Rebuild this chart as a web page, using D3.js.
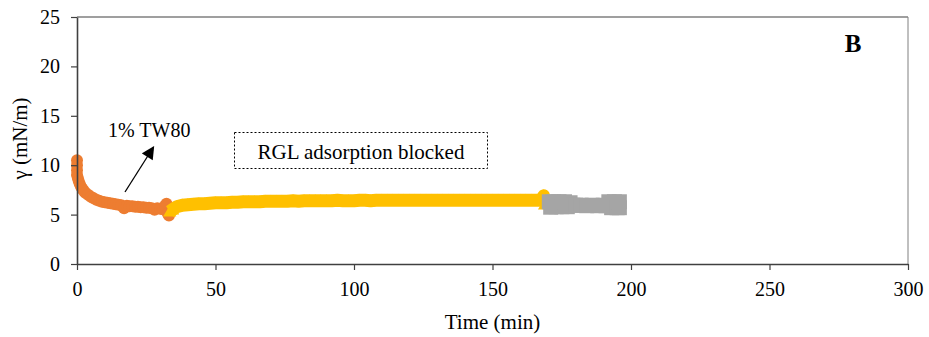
<!DOCTYPE html>
<html><head><meta charset="utf-8">
<script src="https://cdn.jsdelivr.net/npm/d3@7"></script>
<style>
html,body{margin:0;padding:0;background:#fff;}
svg{display:block;}
text{font-family:"Liberation Serif","Times New Roman",Times,serif;fill:#000;}
</style></head>
<body>
<svg id="chart" width="929" height="337"></svg>
<script>
// ---- data ----
const xTicks = [0, 50, 100, 150, 200, 250, 300];
const yTicks = [0, 5, 10, 15, 20, 25];

// Series 1 (orange, circles): 1% TW80
const tOrange = [0, 0, 0, 0, 0.3, 0.6, 1, 1.5, 2, 2.5, 3, 4, 5, 6, 7, 8, 9, 10, 11, 12, 13, 14, 15, 16, 17, 18, 19, 20, 21, 22, 23, 24, 25, 26, 27, 28, 29, 30, 31, 31.8, 32.3, 32.8, 33.2];
const gOrange = [10.5, 10.0, 9.5, 9.0, 8.7, 8.4, 8.1, 7.8, 7.6, 7.4, 7.2, 7.0, 6.8, 6.65, 6.5, 6.4, 6.3, 6.25, 6.2, 6.15, 6.1, 6.05, 6.0, 5.95, 5.65, 5.9, 5.85, 5.85, 5.8, 5.8, 5.75, 5.75, 5.7, 5.7, 5.65, 5.5, 5.65, 5.6, 5.55, 5.9, 6.1, 5.1, 4.9];

// Series 2 (yellow, triangles): RGL adsorption blocked
const tYellow = [33.5, 34.5, 36, 38, 40, 42, 44, 46, 48, 50, 52, 54, 56, 58, 60, 62, 64, 66, 68, 70, 72, 74, 76, 78, 80, 82, 84, 86, 88, 90, 92, 94, 96, 98, 100, 102, 104, 106, 108, 110, 112, 114, 116, 118, 120, 122, 124, 126, 128, 130, 132, 134, 136, 138, 140, 142, 144, 146, 148, 150, 152, 154, 156, 158, 160, 162, 164, 166, 167.5, 168.5, 168.8];
const gYellow = [5.3, 5.5, 5.8, 5.95, 6.0, 6.05, 6.1, 6.1, 6.15, 6.2, 6.2, 6.2, 6.25, 6.25, 6.3, 6.3, 6.3, 6.3, 6.35, 6.35, 6.35, 6.35, 6.35, 6.4, 6.35, 6.4, 6.4, 6.4, 6.4, 6.4, 6.4, 6.45, 6.4, 6.4, 6.4, 6.45, 6.45, 6.4, 6.45, 6.45, 6.45, 6.45, 6.45, 6.45, 6.45, 6.45, 6.45, 6.45, 6.45, 6.45, 6.45, 6.45, 6.45, 6.45, 6.45, 6.45, 6.45, 6.45, 6.45, 6.45, 6.45, 6.45, 6.45, 6.45, 6.45, 6.45, 6.45, 6.45, 6.45, 6.9, 6.0];

// Series 3 (grey, squares)
const tGrey = [170.5, 171, 172, 173, 174, 175, 176, 177, 178, 179, 180, 182, 184, 186, 188, 190, 191, 192, 193, 194, 195, 195.8, 195.8];
const gGrey = [6.3, 5.75, 6.3, 5.8, 6.3, 5.8, 6.3, 5.8, 6.2, 5.95, 5.95, 5.95, 5.9, 5.95, 5.9, 5.95, 5.9, 6.3, 5.7, 6.3, 5.7, 6.3, 5.7];

// ---- drawing ----
const svg = d3.select("#chart");
const x = d3.scaleLinear().domain([0, 300]).range([77, 908]);
const y = d3.scaleLinear().domain([0, 25]).range([264, 17]);

const plot = svg.append("g");

// frame (top and right)
plot.append("line").attr("x1", x(0)).attr("x2", x(300)).attr("y1", y(25)).attr("y2", y(25))
  .attr("stroke", "#404040").attr("stroke-width", 1.2);
plot.append("line").attr("x1", x(300)).attr("x2", x(300)).attr("y1", y(25)).attr("y2", y(0))
  .attr("stroke", "#808080").attr("stroke-width", 1);

// axes
const xAxis = d3.axisBottom(x).tickValues(xTicks).tickSize(6).tickSizeOuter(0).tickPadding(12);
const yAxis = d3.axisLeft(y).tickValues(yTicks).tickSize(6).tickSizeOuter(0).tickPadding(11);
const gx = svg.append("g").attr("transform", `translate(0,${y(0)})`).call(xAxis);
const gy = svg.append("g").attr("transform", `translate(${x(0)},0)`).call(yAxis);
[gx, gy].forEach(g => {
  g.attr("font-family", null);
  g.select(".domain").attr("stroke", "#404040").attr("stroke-width", 1.6);
  g.selectAll(".tick line").attr("stroke", "#404040").attr("stroke-width", 1.2);
  g.selectAll(".tick text").attr("font-size", 20).attr("fill", "#000");
});

// series helper
function pts(ts, gs) { return ts.map((t, i) => ({t, g: gs[i]})); }
const line = d3.line().x(d => x(d.t)).y(d => y(d.g));

const orange = pts(tOrange, gOrange);
const yellow = pts(tYellow, gYellow);
const grey = pts(tGrey, gGrey);

// orange
plot.append("path").datum(orange).attr("d", line).attr("fill", "none")
  .attr("stroke", "#ED7D31").attr("stroke-width", 10).attr("stroke-linejoin", "round");
plot.selectAll(".o").data(orange).enter().append("circle")
  .attr("cx", d => x(d.t)).attr("cy", d => y(d.g)).attr("r", 6).attr("fill", "#ED7D31");

// yellow
plot.append("path").datum(yellow).attr("d", line).attr("fill", "none")
  .attr("stroke", "#FFC000").attr("stroke-width", 13).attr("stroke-linejoin", "round");
const tri = d3.symbol().type(d3.symbolTriangle).size(75);
plot.selectAll(".y").data(yellow).enter().append("path")
  .attr("d", tri).attr("transform", d => `translate(${x(d.t)},${y(d.g) + 1})`).attr("fill", "#FFC000");

// grey
plot.append("path").datum(grey.filter(d => d.t > 178 && d.t < 192)).attr("d", line).attr("fill", "none")
  .attr("stroke", "#A5A5A5").attr("stroke-width", 13);
plot.selectAll(".g").data(grey).enter().append("rect")
  .attr("x", d => x(d.t) - 7.5).attr("y", d => y(d.g) - 7.5)
  .attr("width", 15).attr("height", 15).attr("fill", "#A5A5A5");

// axis titles
svg.append("text").attr("x", (x(0) + x(300)) / 2).attr("y", 329)
  .attr("text-anchor", "middle").attr("font-size", 21).text("Time (min)");
svg.append("text").attr("transform", `translate(27,${(y(0)+y(25))/2 - 2}) rotate(-90)`)
  .attr("text-anchor", "middle").attr("font-size", 21).text("γ (mN/m)");

// panel label
svg.append("text").attr("x", 853).attr("y", 52).attr("text-anchor", "middle")
  .attr("font-size", 25).attr("font-weight", "bold").text("B");

// annotation: 1% TW80 with arrow
svg.append("defs").append("marker").attr("id", "ah").attr("viewBox", "0 0 10 10")
  .attr("refX", 9).attr("refY", 5).attr("markerWidth", 15).attr("markerHeight", 13)
  .attr("markerUnits", "userSpaceOnUse").attr("orient", "auto")
  .append("path").attr("d", "M0,0 L10,5 L0,10 Z").attr("fill", "#000");
svg.append("line").attr("x1", 125).attr("y1", 192).attr("x2", 153.5).attr("y2", 147)
  .attr("stroke", "#000").attr("stroke-width", 1.3).attr("marker-end", "url(#ah)");
svg.append("text").attr("x", 108).attr("y", 137).attr("font-size", 20).text("1% TW80");

// annotation box
svg.append("rect").attr("x", 234.5).attr("y", 132.5).attr("width", 253).attr("height", 36)
  .attr("fill", "none").attr("stroke", "#000").attr("stroke-width", 1).attr("stroke-dasharray", "2,2");
svg.append("text").attr("x", 361).attr("y", 159).attr("text-anchor", "middle")
  .attr("font-size", 21).text("RGL adsorption blocked");
</script>
</body></html>
